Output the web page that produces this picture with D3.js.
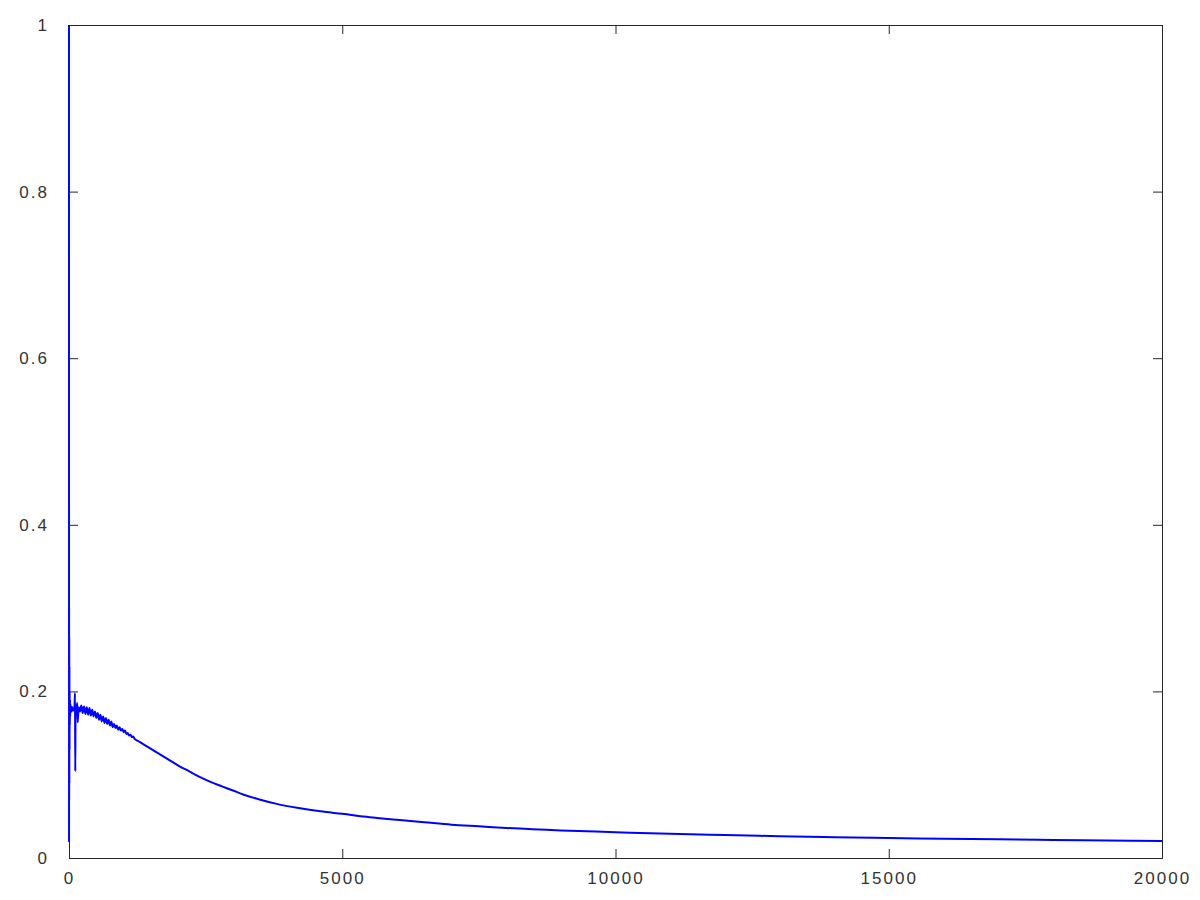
<!DOCTYPE html>
<html><head><meta charset="utf-8">
<script src="https://cdn.jsdelivr.net/npm/d3@7"></script>
<style>
body{margin:0;background:#fff;}
text{font-family:"Liberation Sans","DejaVu Sans",sans-serif;}
</style></head>
<body><div id="chart"></div>
<script>
// Series values
const xValues = [0, 1, 2, 3, 4, 6, 8, 10, 12, 15, 18, 22, 26, 30, 40, 50, 60, 80, 100, 110, 115, 120, 135, 150, 160, 175, 200, 225, 250, 275, 300, 325, 350, 375, 400, 425, 450, 475, 500, 525, 550, 575, 600, 625, 650, 675, 700, 725, 750, 775, 800, 825, 850, 875, 900, 925, 950, 975, 1000, 1025, 1050, 1075, 1100, 1125, 1150, 1175, 1200, 1250, 1300, 1400, 1500, 1650, 1800, 2000, 2200, 2400, 2600, 2800, 3000, 3200, 3500, 3800, 4200, 4600, 5000, 5500, 6000, 6500, 7000, 7500, 8000, 9000, 10000, 11000, 12000, 13000, 14000, 15000, 16000, 17000, 18000, 19000, 20000];
const yValues = [1.0, 0.02, 0.30, 0.07, 0.265, 0.09, 0.23, 0.13, 0.20, 0.16, 0.19, 0.17, 0.185, 0.175, 0.182, 0.176, 0.181, 0.177, 0.18, 0.198, 0.104, 0.18, 0.176, 0.186, 0.163, 0.181, 0.176, 0.183, 0.174, 0.182, 0.173, 0.181, 0.172, 0.180, 0.171, 0.178, 0.170, 0.176, 0.168, 0.174, 0.166, 0.172, 0.164, 0.170, 0.162, 0.168, 0.161, 0.166, 0.159, 0.164, 0.157, 0.161, 0.156, 0.159, 0.154, 0.157, 0.153, 0.155, 0.151, 0.153, 0.149, 0.150, 0.147, 0.148, 0.145, 0.146, 0.143, 0.141, 0.139, 0.135, 0.131, 0.125, 0.119, 0.111, 0.104, 0.097, 0.091, 0.086, 0.081, 0.076, 0.070, 0.065, 0.060, 0.056, 0.053, 0.049, 0.046, 0.043, 0.040, 0.038, 0.036, 0.033, 0.031, 0.029, 0.0275, 0.0262, 0.025, 0.024, 0.0232, 0.0224, 0.0216, 0.021, 0.0203];
const xTicks = [0, 5000, 10000, 15000, 20000];
const yTicks = [0, 0.2, 0.4, 0.6, 0.8, 1];

const W = 1200, H = 900;
const m = {left: 69, top: 25, right: 1162, bottom: 858};
const svg = d3.select("#chart").append("svg").attr("width", W).attr("height", H);

const x = d3.scaleLinear().domain([0, 20000]).range([m.left, m.right]);
const y = d3.scaleLinear().domain([0, 1]).range([m.bottom, m.top]);

const data = xValues.map((v, i) => [v, yValues[i]]);

// data line
svg.append("path")
  .datum(data)
  .attr("fill", "none")
  .attr("stroke", "#0000ff")
  .attr("stroke-width", 2)
  .attr("stroke-linejoin", "round")
  .attr("d", d3.line().curve(d3.curveMonotoneX).x(d => x(d[0])).y(d => y(d[1])));

const axisColor = "#262626";
const tickLen = 9;
const fmt = d => d === 0 ? "0" : (d === 1 ? "1" : String(d));

const gB = svg.append("g").attr("transform", `translate(0,${m.bottom})`)
  .call(d3.axisBottom(x).tickValues(xTicks).tickSize(-tickLen).tickPadding(14).tickFormat(d3.format("d")));
const gT = svg.append("g").attr("transform", `translate(0,${m.top})`)
  .call(d3.axisTop(x).tickValues(xTicks).tickSize(-tickLen).tickFormat(""));
const gL = svg.append("g").attr("transform", `translate(${m.left},0)`)
  .call(d3.axisLeft(y).tickValues(yTicks).tickSize(-tickLen).tickPadding(20).tickFormat(fmt));
const gR = svg.append("g").attr("transform", `translate(${m.right},0)`)
  .call(d3.axisRight(y).tickValues(yTicks).tickSize(-tickLen).tickFormat(""));

[gB, gT, gL, gR].forEach(g => {
  g.select(".domain").attr("stroke", axisColor).attr("stroke-width", 1);
  g.selectAll(".tick line").attr("stroke", axisColor).attr("stroke-width", 1);
  g.selectAll(".tick text").attr("fill", "#333333")
    .style("font-size", "17px").style("letter-spacing", "2px");
});
gB.selectAll(".tick text").attr("dy", "0.71em");
</script>
</body></html>
